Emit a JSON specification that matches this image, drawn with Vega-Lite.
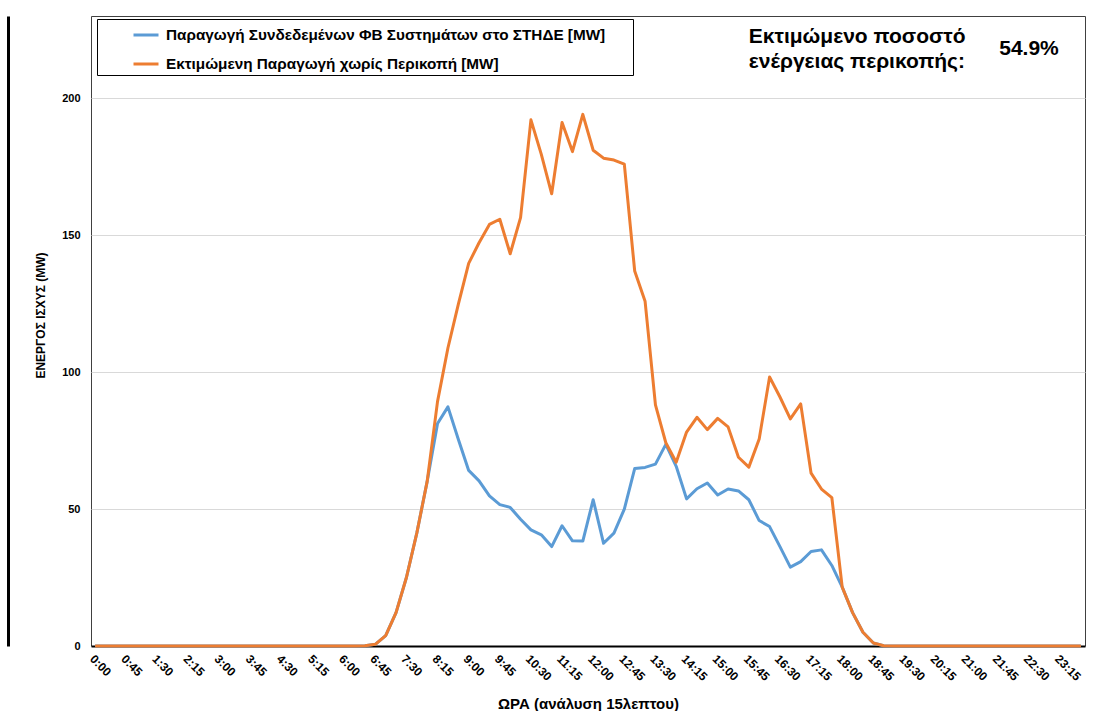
{
  "$schema": "https://vega.github.io/schema/vega-lite/v6.json",
  "width": 994,
  "height": 630,
  "autosize": {"type": "none"},
  "padding": {"left": 91, "top": 16, "right": 16, "bottom": 65},
  "background": "white",
  "config": {
    "font": "Liberation Sans",
    "view": {"stroke": "#404040", "strokeWidth": 1},
    "axis": {"labelFont": "Liberation Sans", "labelFontWeight": "bold", "labelColor": "black", "titleFont": "Liberation Sans", "titleFontWeight": "bold", "titleColor": "black"},
    "legend": {"labelFont": "Liberation Sans", "labelFontWeight": "bold", "labelLimit": 800}
  },
  "data": {"values": [
    {"t":"0:00","pv":0,"est":0},{"t":"0:15","pv":0,"est":0},{"t":"0:30","pv":0,"est":0},{"t":"0:45","pv":0,"est":0},
    {"t":"1:00","pv":0,"est":0},{"t":"1:15","pv":0,"est":0},{"t":"1:30","pv":0,"est":0},{"t":"1:45","pv":0,"est":0},
    {"t":"2:00","pv":0,"est":0},{"t":"2:15","pv":0,"est":0},{"t":"2:30","pv":0,"est":0},{"t":"2:45","pv":0,"est":0},
    {"t":"3:00","pv":0,"est":0},{"t":"3:15","pv":0,"est":0},{"t":"3:30","pv":0,"est":0},{"t":"3:45","pv":0,"est":0},
    {"t":"4:00","pv":0,"est":0},{"t":"4:15","pv":0,"est":0},{"t":"4:30","pv":0,"est":0},{"t":"4:45","pv":0,"est":0},
    {"t":"5:00","pv":0,"est":0},{"t":"5:15","pv":0,"est":0},{"t":"5:30","pv":0,"est":0},{"t":"5:45","pv":0,"est":0},
    {"t":"6:00","pv":0,"est":0},{"t":"6:15","pv":0,"est":0},{"t":"6:30","pv":0.1,"est":0.1},{"t":"6:45","pv":0.6,"est":0.6},
    {"t":"7:00","pv":3.8,"est":3.8},{"t":"7:15","pv":12.2,"est":12.2},{"t":"7:30","pv":25,"est":25},{"t":"7:45","pv":41.2,"est":41.2},
    {"t":"8:00","pv":60.1,"est":60.1},{"t":"8:15","pv":81.2,"est":89.3},{"t":"8:30","pv":87.3,"est":108.8},{"t":"8:45","pv":75.5,"est":124.7},
    {"t":"9:00","pv":64.1,"est":139.7},{"t":"9:15","pv":60.3,"est":147.2},{"t":"9:30","pv":54.8,"est":153.9},{"t":"9:45","pv":51.6,"est":155.8},
    {"t":"10:00","pv":50.6,"est":143.2},{"t":"10:15","pv":46.3,"est":156.4},{"t":"10:30","pv":42.4,"est":192.1},{"t":"10:45","pv":40.6,"est":179.5},
    {"t":"11:00","pv":36.3,"est":165.1},{"t":"11:15","pv":43.9,"est":191.1},{"t":"11:30","pv":38.4,"est":180.5},{"t":"11:45","pv":38.3,"est":194.1},
    {"t":"12:00","pv":53.4,"est":181.0},{"t":"12:15","pv":37.5,"est":178.1},{"t":"12:30","pv":41.2,"est":177.4},{"t":"12:45","pv":50.0,"est":175.9},
    {"t":"13:00","pv":64.8,"est":136.9},{"t":"13:15","pv":65.2,"est":125.9},{"t":"13:30","pv":66.4,"est":88.0},{"t":"13:45","pv":73.6,"est":74.2},
    {"t":"14:00","pv":65.6,"est":67.1},{"t":"14:15","pv":53.7,"est":78.1},{"t":"14:30","pv":57.4,"est":83.5},{"t":"14:45","pv":59.5,"est":79.0},
    {"t":"15:00","pv":55.1,"est":83.1},{"t":"15:15","pv":57.3,"est":80.0},{"t":"15:30","pv":56.6,"est":68.9},{"t":"15:45","pv":53.4,"est":65.3},
    {"t":"16:00","pv":45.8,"est":75.6},{"t":"16:15","pv":43.6,"est":98.2},{"t":"16:30","pv":36.3,"est":90.9},{"t":"16:45","pv":28.8,"est":82.9},
    {"t":"17:00","pv":30.8,"est":88.4},{"t":"17:15","pv":34.5,"est":63.1},{"t":"17:30","pv":35.1,"est":57.3},{"t":"17:45","pv":29.4,"est":54.2},
    {"t":"18:00","pv":21.5,"est":21.5},{"t":"18:15","pv":12.2,"est":12.2},{"t":"18:30","pv":5.0,"est":5.0},{"t":"18:45","pv":1.1,"est":1.1},
    {"t":"19:00","pv":0.1,"est":0.1},{"t":"19:15","pv":0,"est":0},{"t":"19:30","pv":0,"est":0},{"t":"19:45","pv":0,"est":0},
    {"t":"20:00","pv":0,"est":0},{"t":"20:15","pv":0,"est":0},{"t":"20:30","pv":0,"est":0},{"t":"20:45","pv":0,"est":0},
    {"t":"21:00","pv":0,"est":0},{"t":"21:15","pv":0,"est":0},{"t":"21:30","pv":0,"est":0},{"t":"21:45","pv":0,"est":0},
    {"t":"22:00","pv":0,"est":0},{"t":"22:15","pv":0,"est":0},{"t":"22:30","pv":0,"est":0},{"t":"22:45","pv":0,"est":0},
    {"t":"23:00","pv":0,"est":0},{"t":"23:15","pv":0,"est":0},{"t":"23:30","pv":0,"est":0},{"t":"23:45","pv":0,"est":0}
  ]},
  "encoding": {
    "x": {
      "field": "t", "type": "ordinal",
      "scale": {"type": "point", "padding": 0.4, "domain": ["0:00","0:15","0:30","0:45","1:00","1:15","1:30","1:45","2:00","2:15","2:30","2:45","3:00","3:15","3:30","3:45","4:00","4:15","4:30","4:45","5:00","5:15","5:30","5:45","6:00","6:15","6:30","6:45","7:00","7:15","7:30","7:45","8:00","8:15","8:30","8:45","9:00","9:15","9:30","9:45","10:00","10:15","10:30","10:45","11:00","11:15","11:30","11:45","12:00","12:15","12:30","12:45","13:00","13:15","13:30","13:45","14:00","14:15","14:30","14:45","15:00","15:15","15:30","15:45","16:00","16:15","16:30","16:45","17:00","17:15","17:30","17:45","18:00","18:15","18:30","18:45","19:00","19:15","19:30","19:45","20:00","20:15","20:30","20:45","21:00","21:15","21:30","21:45","22:00","22:15","22:30","22:45","23:00","23:15","23:30","23:45"]},
      "axis": {
        "values": ["0:00","0:45","1:30","2:15","3:00","3:45","4:30","5:15","6:00","6:45","7:30","8:15","9:00","9:45","10:30","11:15","12:00","12:45","13:30","14:15","15:00","15:45","16:30","17:15","18:00","18:45","19:30","20:15","21:00","21:45","22:30","23:15"],
        "labelAngle": 45, "labelAlign": "left", "labelBaseline": "top", "labelPadding": 7,
        "labelFontSize": 12, "ticks": false, "grid": false,
        "domain": true, "domainColor": "black", "domainWidth": 2,
        "title": "ΩΡΑ (ανάλυση 15λεπτου)", "titleFontSize": 15, "titleY": 57, "titleBaseline": "middle"
      }
    }
  },
  "layer": [
    {
      "mark": {"type": "line", "strokeWidth": 3, "strokeJoin": "round"},
      "encoding": {
        "y": {
          "field": "pv", "type": "quantitative",
          "scale": {"domain": [0, 230], "nice": false},
          "axis": {
            "values": [0, 50, 100, 150, 200], "grid": true, "gridColor": "#d9d9d9", "gridWidth": 1,
            "ticks": false, "domain": true, "domainColor": "black", "domainWidth": 3,
            "offset": 83, "labelPadding": -72, "labelFontSize": 11,
            "title": "ΕΝΕΡΓΟΣ ΙΣΧΥΣ (MW)", "titleFontSize": 12, "titleX": 32, "titleY": 299,
            "titleBaseline": "middle", "titleAlign": "center", "titleAngle": -90
          }
        },
        "color": {
          "datum": "Παραγωγή Συνδεδεμένων ΦΒ Συστημάτων στο ΣΤΗΔΕ [MW]",
          "scale": {"domain": ["Παραγωγή Συνδεδεμένων ΦΒ Συστημάτων στο ΣΤΗΔΕ [MW]", "Εκτιμώμενη Παραγωγή χωρίς Περικοπή [MW]"], "range": ["#5B9BD5", "#ED7D31"]},
          "legend": {
            "orient": "none", "legendX": 6, "legendY": 3, "title": " ", "titleOrient": "right", "titlePadding": 26, "titleFontSize": 6,
            "direction": "vertical",
            "strokeColor": "black", "fillColor": "white", "padding": 2,
            "symbolType": "stroke", "symbolSize": 625, "symbolStrokeWidth": 3, "symbolOffset": 33,
            "labelFontSize": 15.3, "labelFontWeight": "bold", "labelFont": "Liberation Sans", "labelColor": "black",
            "labelLimit": 800, "labelOffset": 6, "rowPadding": 6
          }
        }
      }
    },
    {
      "mark": {"type": "line", "strokeWidth": 3, "strokeJoin": "round"},
      "encoding": {
        "y": {"field": "est", "type": "quantitative"},
        "color": {"datum": "Εκτιμώμενη Παραγωγή χωρίς Περικοπή [MW]"}
      }
    },
    {
      "data": {"values": [{}]},
      "mark": {"type": "text", "align": "left", "baseline": "middle", "fontSize": 21, "fontWeight": "bold", "lineHeight": 25, "font": "Liberation Sans", "color": "black"},
      "encoding": {
        "x": {"datum": "15:45"},
        "y": {"datum": 222.4},
        "text": {"value": ["Εκτιμώμενο ποσοστό", "ενέργειας περικοπής:"]}
      }
    },
    {
      "data": {"values": [{}]},
      "mark": {"type": "text", "align": "center", "baseline": "middle", "fontSize": 21, "fontWeight": "bold", "font": "Liberation Sans", "color": "black"},
      "encoding": {
        "x": {"datum": "22:30"},
        "y": {"datum": 218},
        "text": {"value": "54.9%"}
      }
    }
  ]
}
